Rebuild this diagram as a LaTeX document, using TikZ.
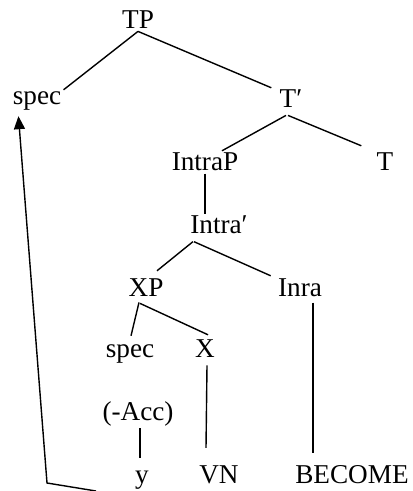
\documentclass[tikz,border=0pt]{standalone}
\usepackage{fontspec}
\setmainfont{Liberation Serif}
\usepackage{tikz}
\usetikzlibrary{calc,arrows.meta}

\begin{document}
\begin{tikzpicture}[x=0.5pt,y=-0.5pt,
  lab/.style={anchor=base,inner sep=1pt,font=\fontsize{13.6}{16}\selectfont},
  branch/.style={line width=0.7pt}]

\useasboundingbox (0,0) rectangle (412,491);

\node[lab] (TP) at (138,29) {TP};
\node[lab] (specA) at (37,105) {spec};
\node[lab] (Tbar) at (291,108) {T′};
\node[lab] (IntraP) at (205,171) {IntraP};
\node[lab] (T) at (385,171) {T};
\node[lab] (Intrabar) at (219,234) {Intra′};
\node[lab] (XP) at (146,296) {XP};
\node[lab] (Inra) at (300,296) {Inra};
\node[lab] (specB) at (130,357) {spec};
\node[lab] (X) at (205,357) {X};
\node[lab] (Acc) at (138,420) {(-Acc)};
\node[lab] (y) at (142,483) {y};
\node[lab] (VN) at (219,483) {VN};
\node[lab] (BECOME) at (352,483) {BECOME};

\draw[branch] (TP.south) -- (specA.north east);
\draw[branch] (TP.south) -- ($(Tbar.north west)+(-6,0)$);
\draw[branch] ($(Tbar.south)+(-5,5)$) -- ($(IntraP.north)+(17,0)$);
\draw[branch] ($(Tbar.south)+(-3,5)$) -- ($(T.north west)+(-13,-5)$);
\draw[branch] (IntraP.south) -- ($(Intrabar.north)+(-14,0)$);
\draw[branch] ($(Intrabar.south west)+(5,5)$) -- ($(XP.north)+(11,-5)$);
\draw[branch] ($(Intrabar.south west)+(6,5)$) -- ($(Inra.north west)+(-5,0)$);
\draw[branch] ($(XP.south)+(-7,4)$) -- ($(specB.north)+(1,-6)$);
\draw[branch] ($(XP.south)+(-6,5)$) -- ($(X.north)+(3,-2)$);
\draw[branch] ($(X.south)+(2,6)$) -- ($(VN.north)+(-13,-15)$);
\draw[branch] ($(Inra.south)+(13,4)$) -- ($(BECOME.north)+(-39,-10)$);
\draw[branch] ($(Acc.south)+(2,0)$) -- ($(y.north)+(-2,-10)$);

% movement
\coordinate (from) at (96,491);
\coordinate (corner) at (47,483);
\draw[branch,-{Triangle[length=6.5pt,width=5.5pt]}] (from) -- (corner) -- ($(specA.south west)+(8,3)$);
\end{tikzpicture}
\end{document}
